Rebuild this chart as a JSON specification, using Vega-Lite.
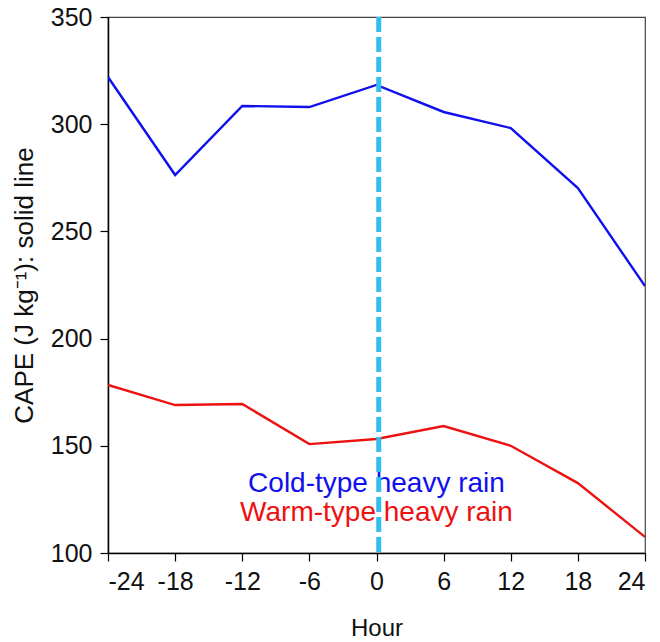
{
  "$schema": "https://vega.github.io/schema/vega-lite/v6.json",
  "autosize": "none",
  "width": 537,
  "height": 536,
  "padding": {"left": 108, "top": 17, "right": 15, "bottom": 89},
  "background": "white",
  "config": {
    "font": "Liberation Sans",
    "view": {"stroke": "#444", "strokeWidth": 1.2},
    "axis": {
      "grid": false,
      "domainColor": "#000",
      "domainWidth": 1.5,
      "tickColor": "#000",
      "tickWidth": 1.2,
      "tickSize": 8,
      "labelFont": "Liberation Sans",
      "labelFontSize": 25,
      "labelColor": "#111",
      "labelPadding": 8,
      "titleFont": "Liberation Sans",
      "titleFontWeight": "normal",
      "titleColor": "#111"
    }
  },
  "datasets": {
    "cape": [
      {"hour": -24, "cape": 322, "type": "Cold"},
      {"hour": -18, "cape": 276.3, "type": "Cold"},
      {"hour": -12, "cape": 308.5, "type": "Cold"},
      {"hour": -6, "cape": 308, "type": "Cold"},
      {"hour": 0, "cape": 318.3, "type": "Cold"},
      {"hour": 6, "cape": 305.7, "type": "Cold"},
      {"hour": 12, "cape": 298.2, "type": "Cold"},
      {"hour": 18, "cape": 270.2, "type": "Cold"},
      {"hour": 24, "cape": 224.5, "type": "Cold"},
      {"hour": -24, "cape": 178.4, "type": "Warm"},
      {"hour": -18, "cape": 169, "type": "Warm"},
      {"hour": -12, "cape": 169.5, "type": "Warm"},
      {"hour": -6, "cape": 150.8, "type": "Warm"},
      {"hour": 0, "cape": 153.2, "type": "Warm"},
      {"hour": 6, "cape": 159.2, "type": "Warm"},
      {"hour": 12, "cape": 150, "type": "Warm"},
      {"hour": 18, "cape": 132.6, "type": "Warm"},
      {"hour": 24, "cape": 107.5, "type": "Warm"}
    ],
    "labels": [
      {"hour": 0.0, "cape": 132.2, "text": "Cold-type heavy rain", "type": "Cold"},
      {"hour": 0.0, "cape": 118.7, "text": "Warm-type heavy rain", "type": "Warm"}
    ],
    "event": [{"hour": 0.2}]
  },
  "layer": [
    {
      "data": {"name": "cape"},
      "mark": {"type": "line", "strokeWidth": 2.4, "clip": true},
      "encoding": {
        "x": {
          "field": "hour", "type": "quantitative",
          "scale": {"domain": [-24, 24], "nice": false, "zero": false},
          "axis": {"values": [-24, -18, -12, -6, 0, 6, 12, 18, 24], "labelExpr": "'' + datum.value", "title": "Hour", "titleFontSize": 24, "titlePadding": 22}
        },
        "y": {
          "field": "cape", "type": "quantitative",
          "scale": {"domain": [100, 350], "nice": false, "zero": false},
          "axis": {"values": [100, 150, 200, 250, 300, 350], "title": "CAPE (J kg⁻¹): solid line", "titleFontSize": 26, "titlePadding": 13}
        },
        "color": {
          "field": "type", "type": "nominal",
          "scale": {"domain": ["Cold", "Warm"], "range": ["#1010ee", "#ee1111"]},
          "legend": null
        },
        "detail": {"field": "type"}
      }
    },
    {
      "data": {"name": "labels"},
      "mark": {"type": "text", "fontSize": 28, "font": "Liberation Sans", "align": "center", "baseline": "middle"},
      "encoding": {
        "x": {"field": "hour", "type": "quantitative"},
        "y": {"field": "cape", "type": "quantitative"},
        "text": {"field": "text"},
        "color": {"field": "type", "type": "nominal", "legend": null}
      }
    },
    {
      "data": {"name": "event"},
      "mark": {"type": "rule", "color": "#33bfee", "strokeWidth": 5, "strokeDash": [15, 5]},
      "encoding": {
        "x": {"field": "hour", "type": "quantitative"}
      }
    }
  ]
}
